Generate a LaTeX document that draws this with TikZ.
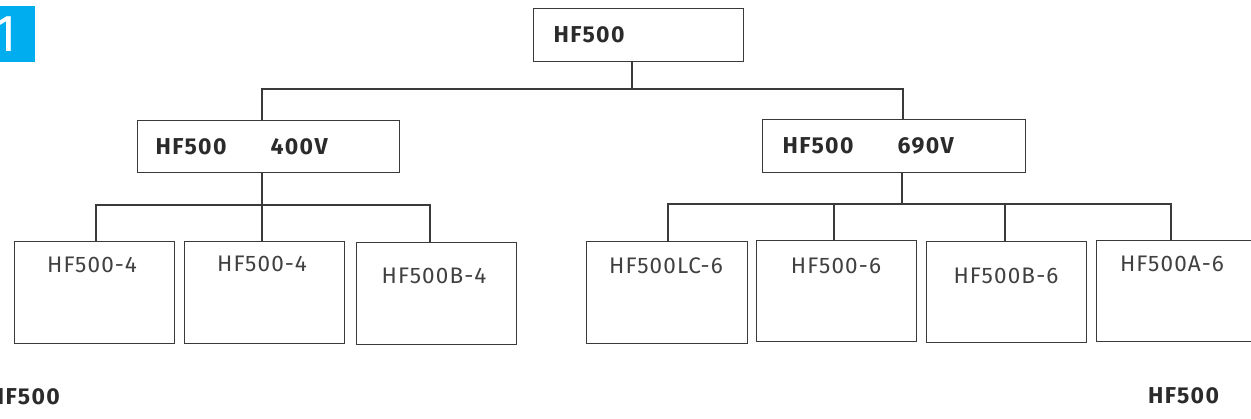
\documentclass[tikz,border=0pt]{standalone}
\usepackage{fontspec}
\setmainfont{Fira Sans}
\newfontfamily\thinfont[LetterSpace=5]{Fira Sans}
\newfontfamily\headfont[LetterSpace=6]{Fira Sans}
\definecolor{badgeblue}{HTML}{00AEEF}
\definecolor{ink}{HTML}{2B2B2B}
\definecolor{linec}{HTML}{3A3A3A}
\begin{document}
\begin{tikzpicture}[x=1pt,y=-1pt,
  box/.style={draw=linec,line width=1.4pt,rectangle,anchor=north west,inner ysep=0pt},
  headbox/.style={box,align=left,text=ink,font=\fontsize{23}{26}\headfont\bfseries},
  leaf/.style={box,minimum width=160,minimum height=102},
  lbl/.style={inner sep=0pt,text=ink!90,font=\fontsize{22.5}{24}\thinfont},
  bold/.style={inner sep=0pt,text=ink,font=\fontsize{23}{26}\headfont\bfseries},
  conn/.style={draw=linec,line width=1.4pt}]
\useasboundingbox (0,0) rectangle (1251,418);
\clip (0,0) rectangle (1251,418);
% badge
\node[fill=badgeblue,anchor=north east,minimum width=45,minimum height=56,inner sep=0pt] (badge) at (35,6) {};
\node[anchor=east,inner sep=0pt,text=white,font=\fontsize{52}{52}\selectfont] (one) at (17,34) {1};
% top
\node[headbox,minimum width=210,minimum height=53,text width=170,inner xsep=20] (top) at (533,8) {HF500};
% middle
\node[headbox,minimum width=262,minimum height=52,text width=226,inner xsep=18] (ml) at (137,120) {HF500\hspace{44pt}400V};
\node[headbox,minimum width=263,minimum height=53,text width=223,inner xsep=20] (mr) at (762,119) {HF500\hspace{44pt}690V};
% leaves
\node[leaf] (b1) at (14,241) {};
\node[leaf] (b2) at (184,241) {};
\node[leaf] (b3) at (356,242) {};
\node[leaf,minimum width=161] (b4) at (586,241) {};
\node[leaf,minimum width=160,minimum height=101] (b5) at (756,240) {};
\node[leaf,minimum height=101] (b6) at (926,241) {};
\node[leaf,minimum width=170,minimum height=101] (b7) at (1096,240) {};
% leaf labels
\node[lbl] (t1) at (92,265) {HF500-4};
\node[lbl] (t2) at (262,264) {HF500-4};
\node[lbl] (t3) at (434,276) {HF500B-4};
\node[lbl] (t4) at (666,266) {HF500LC-6};
\node[lbl] (t5) at (836,266) {HF500-6};
\node[lbl] (t6) at (1006,276) {HF500B-6};
\node[lbl] (t7) at (1172,264) {HF500A-6};
% footers
\node[bold,anchor=east] (fl) at (60,397) {HF500};
\node[bold,anchor=west] (fr) at (1148,396) {HF500};
% connectors
\coordinate (j0) at (632,89);
\coordinate (jl) at (262,89);
\coordinate (jr) at (903,89);
\draw[conn] (j0 |- top.south) -- (j0);
\draw[conn] (jl |- ml.north) -- (jl) -- (jr) -- (jr |- mr.north);
\coordinate (l1) at (96,205);
\coordinate (l2) at (262,205);
\coordinate (l3) at (430,205);
\draw[conn] (l2 |- ml.south) -- (l2 |- b2.north);
\draw[conn] (l1 |- b1.north) -- (l1) -- (l3) -- (l3 |- b3.north);
\coordinate (r1) at (668,204);
\coordinate (r2) at (834,204);
\coordinate (rm) at (902,204);
\coordinate (r3) at (1005,204);
\coordinate (r4) at (1171,204);
\draw[conn] (rm |- mr.south) -- (rm);
\draw[conn] (r1 |- b4.north) -- (r1) -- (r4) -- (r4 |- b7.north);
\draw[conn] (r2) -- (r2 |- b5.north);
\draw[conn] (r3) -- (r3 |- b6.north);
\end{tikzpicture}
\end{document}
